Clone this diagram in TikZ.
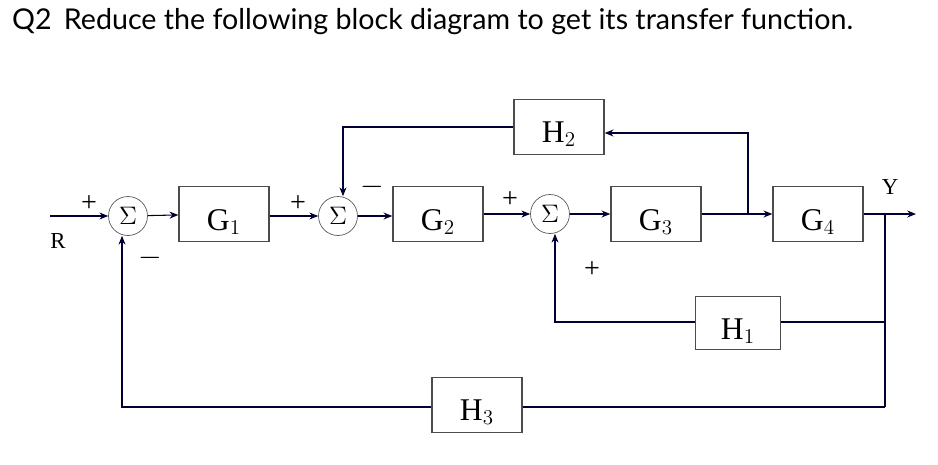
\documentclass[tikz,border=0pt]{standalone}
\usepackage{fontspec}
\setmainfont{Liberation Serif}
\newfontfamily\titlefont{Lato}
\usetikzlibrary{arrows.meta}
\begin{document}
\begin{tikzpicture}[x=0.02cm,y=-0.02cm,
  ln/.style={draw=black!80!blue,line width=0.6pt},
  arr/.style={ln,-{Stealth[length=5pt,width=4pt]}},
  blk/.style={draw=black!70,line width=0.8pt,minimum width=1.8cm,minimum height=1.1cm,inner sep=0pt},
  sm/.style={draw=black!65,circle,minimum size=0.78cm,inner sep=0pt,font=\fontsize{14}{14}\selectfont},
  lab/.style={font=\fontsize{18}{18}\selectfont},
  sg/.style={font=\fontsize{16}{16}\selectfont}]
\useasboundingbox (0,0) rectangle (938,464);
\node[anchor=west,font=\titlefont\fontsize{16.3}{18}\selectfont] (title) at (6,22) {Q2\, Reduce the following block diagram to get its transfer function.};
% blocks
\node[blk] (G1) at (224,214) {}; \node[lab] (g1) at (224,222) {G$_1$};
\node[blk] (G2) at (438,214) {}; \node[lab] (g2) at (438,222) {G$_2$};
\node[blk] (G3) at (656,214) {}; \node[lab] (g3) at (656,222) {G$_3$};
\node[blk] (G4) at (818,214) {}; \node[lab] (g4) at (818,222) {G$_4$};
\node[blk] (H2) at (559,127) {}; \node[lab] (h2) at (559,134) {H$_2$};
\node[blk,minimum width=1.7cm,minimum height=1.05cm] (H1) at (738,323) {}; \node[lab] (h1) at (738,331) {H$_1$};
\node[blk] (H3) at (477,405) {}; \node[lab] (h3) at (477,412) {H$_3$};
% sums
\node[sm] (S1) at (128,216) {$\Sigma$};
\node[sm] (S2) at (338,216) {$\Sigma$};
\node[sm] (S3) at (550,214) {$\Sigma$};
% coordinates
\coordinate (in) at (50,216);
\coordinate (out) at (916,214);
\coordinate (j1) at (748,214);
\coordinate (j1t) at (748,133);
\coordinate (j2) at (885,214);
\coordinate (j2a) at (885,322);
\coordinate (j2b) at (885,407);
\coordinate (h2l) at (343,127);
\coordinate (h1l) at (555,322);
\coordinate (h3l) at (122,407);
% forward path
\draw[arr] (in) -- (S1);
\draw[arr] (S1) -- (G1);
\draw[arr] (G1.east |- S2) -- (S2);
\draw[arr] (S2) -- (G2.west |- S2);
\draw[arr] (G2.east |- S3) -- (S3);
\draw[arr] (S3) -- (G3);
\draw[arr] (G3) -- (G4);
\draw[arr] (G4) -- (out);
% feedbacks
\draw[arr] (j1) -- (j1t) -- (H2.east |- j1t);
\draw[arr] (H2.west) -- (h2l) -- (h2l |- S2.north);
\draw[ln] (j2) -- (j2b);
\draw[ln] (j2a) -- (H1.east |- j2a);
\draw[arr] (H1.west |- j2a) -- (h1l) -- (h1l |- S3.south);
\draw[ln] (j2b) -- (H3.east |- j2b);
\draw[arr] (H3.west |- j2b) -- (h3l) -- (h3l |- S1.south);
% signs and labels
\node[sg] (p1) at (89,204) {+};
\node[sg] (m1) at (150,258) {$-$};
\node[sg] (p2) at (298,204) {+};
\node[sg] (m2) at (372,187) {$-$};
\node[sg] (p3) at (510,200) {+};
\node[sg] (p4) at (592,270) {+};
\node[font=\fontsize{13}{13}\selectfont] (R) at (58,241) {R};
\node[font=\fontsize{13}{13}\selectfont] (Y) at (890,187) {Y};
\end{tikzpicture}
\end{document}
